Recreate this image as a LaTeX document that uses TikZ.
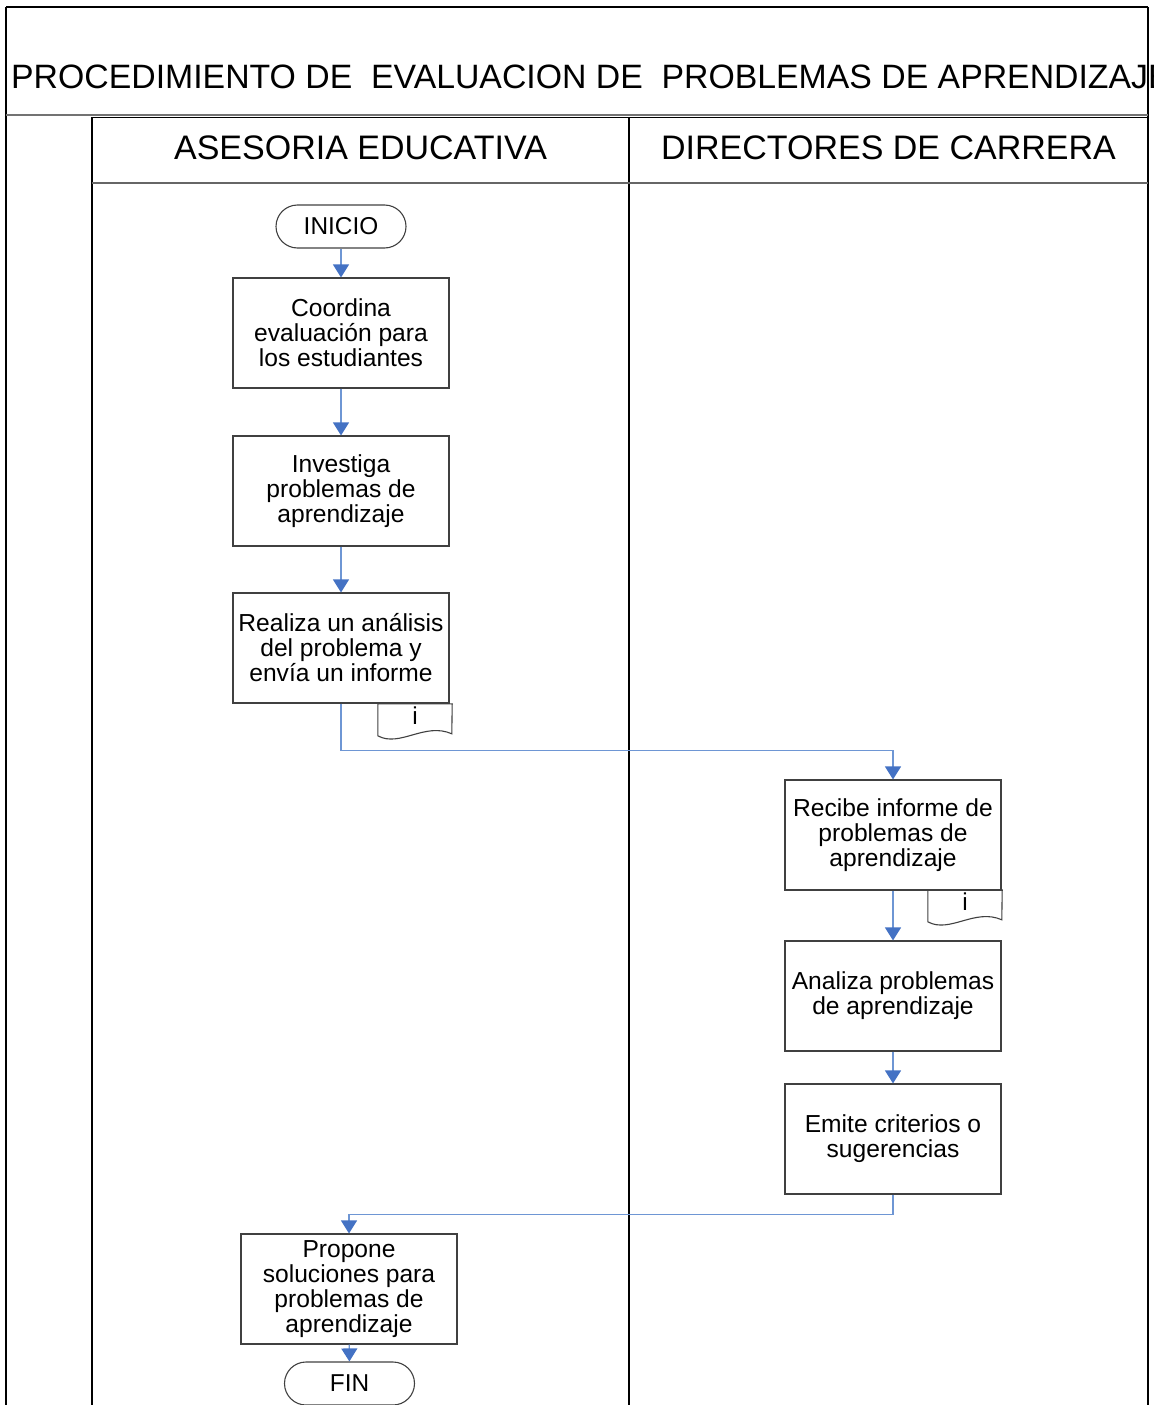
\documentclass[tikz,border=0pt]{standalone}
\usepackage{fontspec}
\setmainfont{Liberation Sans}
\usetikzlibrary{arrows.meta,calc}
\definecolor{lineblue}{RGB}{110,150,212}
\definecolor{headblue}{RGB}{68,114,196}
\definecolor{boxgray}{RGB}{64,64,64}
\tikzset{
 procbox/.style={draw=boxgray, line width=1.1pt, minimum width=216pt, minimum height=110pt, align=center, font=\fontsize{24.6}{25}\selectfont, inner sep=0pt},
 termbox/.style={draw=boxgray, line width=1.1pt, minimum width=130pt, minimum height=43pt, rounded corners=21.5pt, font=\fontsize{24.4}{25}\selectfont, inner sep=0pt},
 docbox/.style={minimum width=74pt, minimum height=24pt, inner sep=0pt, font=\fontsize{24.4}{25}\selectfont},
 docline/.style={draw=boxgray, line width=1.1pt},
 flow/.style={draw=lineblue, line width=1.2pt, -{Triangle[width=16pt,length=13pt,color=headblue]}},
 frame/.style={draw=black, line width=1.3pt},
 lanehead/.style={font=\fontsize{34}{36}\selectfont, inner sep=0pt},
 titlefont/.style={font=\fontsize{33.8}{36}\selectfont, inner sep=0pt},
}
\begin{document}
\begin{tikzpicture}[x=1pt,y=-1pt]
\useasboundingbox (0,0) rectangle (1164,1405);
\clip (0,0) rectangle (1164,1405);
% title
\begin{scope}
\clip (6,7) rectangle (1153,113);
\node[anchor=west, titlefont] (title) at (11,77) {PROCEDIMIENTO DE\ \ EVALUACION DE\ \ PROBLEMAS DE APRENDIZAJE};
\end{scope}
% frame
\draw[frame] (6,7) -- (1148,7);
\draw[frame] (6,7) -- (6,1405);
\draw[frame] (1148,7) -- (1148,1405);
\draw[draw=black!55, line width=2pt] (6,114.5) -- (1148,114.5);
\draw[draw=black, line width=1pt] (92,117) -- (1148,117);
\draw[frame] (92,117) -- (92,1405);
\draw[frame] (629,117) -- (629,1405);
\draw[draw=black!60, line width=2pt] (92,183) -- (1148,183);
% lane headers
\node[lanehead] (lane1) at (360.5,148) {ASESORIA EDUCATIVA};
\node[lanehead] (lane2) at (888.5,148) {DIRECTORES DE CARRERA};
% left lane
\node[termbox] (inicio) at (341,226.5) {INICIO};
\node[procbox] (coord) at (341,333) {Coordina\\evaluación para\\los estudiantes};
\node[procbox] (invest) at (341,491) {Investiga\\problemas de\\aprendizaje};
\node[procbox] (realiza) at (341,648) {Realiza un análisis\\del problema y\\envía un informe};
\node[docbox] (doc1) at (415,716) {i};
\draw[docline] (doc1.north west) -- (doc1.north east) -- ($(doc1.north west)+(74,30)$)
  .. controls ($(doc1.north west)+(47,18)$) and ($(doc1.north west)+(22,44)$) .. ($(doc1.north west)+(0,32)$) -- cycle;
% right lane
\node[procbox] (recibe) at (893,835) {Recibe informe de\\problemas de\\aprendizaje};
\node[docbox] (doc2) at (965,902) {i};
\draw[docline] (doc2.north west) -- (doc2.north east) -- ($(doc2.north west)+(74,30)$)
  .. controls ($(doc2.north west)+(47,18)$) and ($(doc2.north west)+(22,44)$) .. ($(doc2.north west)+(0,32)$) -- cycle;
\node[procbox] (analiza) at (893,996) {Analiza problemas\\de aprendizaje};
\node[procbox] (emite) at (893,1139) {Emite criterios o\\sugerencias};
\node[procbox] (propone) at (349,1289) {Propone\\soluciones para\\problemas de\\aprendizaje};
\node[termbox] (fin) at (349.5,1383.5) {FIN};
% connectors
\draw[flow] (inicio) -- (coord);
\draw[flow] (coord) -- (invest);
\draw[flow] (invest) -- (realiza);
\draw[flow] (realiza.south) -- ++(0,47) -| (recibe.north);
\draw[flow] (recibe) -- (analiza);
\draw[flow] (analiza) -- (emite);
\draw[flow] (emite.south) -- ++(0,20) -| (propone.north);
\draw[flow] (propone) -- (fin);
\end{tikzpicture}
\end{document}
